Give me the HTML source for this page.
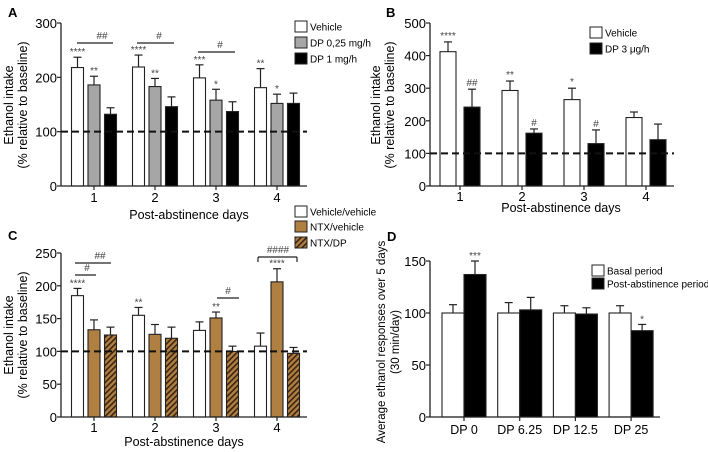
<!DOCTYPE html>
<html><head><meta charset="utf-8"><style>
body{margin:0;background:#fff}
svg{display:block;font-family:"Liberation Sans",Arial,sans-serif}
.tk{font-size:13px}
.yl{font-size:12.5px}
.yd{font-size:11.5px}
.lg{font-size:10px}
.an{font-size:10px;fill:#444}
</style></head><body>
<svg id="fig" width="708" height="452" viewBox="0 0 708 452">
<defs>
<pattern id="hatch" patternUnits="userSpaceOnUse" width="4" height="4" patternTransform="rotate(45)">
<rect width="4" height="4" fill="#b07f42"/><rect width="1.6" height="4" fill="#3a2410"/>
</pattern>
</defs>
</svg>
<script>
// ---- Panel A data ----
const aDays=["1","2","3","4"];
const aVehicle=[218,219,199,181];
const aVehicleErr=[19,22,24,35];
const aDP025=[186,183,158,152];
const aDP025Err=[16,15,20,17];
const aDP1=[132,146,137,152];
const aDP1Err=[12,18,18,19];
const aTicks=[0,100,200,300];
// ---- Panel B data ----
const bDays=["1","2","3","4"];
const bVehicle=[412,293,265,210];
const bVehicleErr=[30,29,35,17];
const bDP3=[242,162,130,142];
const bDP3Err=[55,13,42,48];
const bTicks=[0,100,200,300,400,500];
// ---- Panel C data ----
const cDays=["1","2","3","4"];
const cVehVeh=[185,155,132,108];
const cVehVehErr=[11,12,13,20];
const cNtxVeh=[133,126,151,206];
const cNtxVehErr=[15,15,9,20];
const cNtxDP=[125,120,100,97];
const cNtxDPErr=[12,17,8,9];
const cTicks=[0,50,100,150,200,250];
// ---- Panel D data ----
const dGroups=["DP 0","DP 6.25","DP 12.5","DP 25"];
const dBasal=[100,100,100,100];
const dBasalErr=[8,10,7,7];
const dPost=[137,103,99,83];
const dPostErr=[13,12,6,6];
const dTicks=[0,50,100,150];

const svg=document.getElementById('fig');
const NS="http://www.w3.org/2000/svg";
function el(tag,attrs,parent,txt){const e=document.createElementNS(NS,tag);for(const k in attrs)e.setAttribute(k,attrs[k]);if(txt!==undefined)e.textContent=txt;(parent||svg).appendChild(e);return e;}

function panel(o){
  const g=el('g',{});
  
  
  const y=v=>o.y0-(v/o.ymax)*(o.y0-o.ytop);
  const cx=i=>o.gx0+i*o.pitch;
  o.series.forEach((s,si)=>{
    s.vals.forEach((v,i)=>{
      const x=cx(i)+s.off-o.bw/2;
      const top=y(v+s.err[i]);
      const eb=el('line',{x1:cx(i)+s.off,x2:cx(i)+s.off,y1:y(v),y2:top,stroke:'#222','stroke-width':1.2},g);
      
      
      const ec=el('line',{x1:cx(i)+s.off-4,x2:cx(i)+s.off+4,y1:top,y2:top,stroke:'#222','stroke-width':1.2},g);
      
      
      const r=el('rect',{x:x,y:y(v),width:o.bw,height:o.y0-y(v),fill:s.fill,stroke:'#222','stroke-width':1.1},g);
      
      
    });
  });
  const ya=el('line',{x1:o.ax,x2:o.ax,y1:o.ytop,y2:o.y0,stroke:'#222','stroke-width':1.3},g);
  
  
  const xa=el('line',{x1:o.ax,x2:o.axEnd,y1:o.y0,y2:o.y0,stroke:'#222','stroke-width':1.3},g);
  
  
  o.ticks.forEach(t=>{
    el('line',{x1:o.ax-4,x2:o.ax,y1:y(t),y2:y(t),stroke:'#222','stroke-width':1.2},g);
    const tl=el('text',{x:o.ax-4,y:y(t)+5,'text-anchor':'end',class:'tk'},g,String(t));
    
    
  });
  o.cats.forEach((c,i)=>{
    el('line',{x1:cx(i),x2:cx(i),y1:o.y0,y2:o.y0+4,stroke:'#222','stroke-width':1.2},g);
    const tl=el('text',{x:cx(i),y:o.y0+o.tkdy,'text-anchor':'middle',class:o.tkcls||'tk'},g,c);
    
    
  });
  if(o.dash){const d=el('line',{x1:o.ax,x2:o.axEnd,y1:y(100),y2:y(100),stroke:'#111','stroke-width':2,'stroke-dasharray':'7,4'},g);
    
    }
  return {y,cx,g};
}

function txt(x,y,s,cls,name,anchor,g){const t=el('text',{x:x,y:y,'text-anchor':anchor||'middle',class:cls||''},g||svg,s);return t;}
function ln(x1,y1,x2,y2,g){const l=el('line',{x1,y1,x2,y2,stroke:'#222','stroke-width':1.2},g||svg);return l;}
function legend(x,y,fill,label,name){const r=el('rect',{x:x,y:y,width:12,height:11,fill:fill,stroke:'#222','stroke-width':1});txt(x+15,y+9.5,label,'lg',name,'start');}
function ytitle(x,cy,l1,l2,name,cls){const t=el('text',{transform:`translate(${x},${cy}) rotate(-90)`,'text-anchor':'middle',class:cls||'yl'});el('tspan',{x:0,dy:0},t,l1);el('tspan',{x:0,dy:14},t,l2);}

// Panel A
const A=panel({name:'panel-a',ax:61,axEnd:307,ytop:23,y0:186,ymax:300,gx0:94,pitch:61,bw:12,ticks:aTicks,cats:aDays,tkdy:16,dash:true,
 series:[{key:'vehicle',vals:aVehicle,err:aVehicleErr,fill:'#fff',off:-16.5},{key:'dp025',vals:aDP025,err:aDP025Err,fill:'#a6a6a6',off:0},{key:'dp1',vals:aDP1,err:aDP1Err,fill:'#000',off:16.5}]});
txt(8,17,'A','','panel-a-label','start').setAttribute('style','font-weight:bold;font-size:13px');
ytitle(13,105,'Ethanol intake','(% relative to baseline)','panel-a-y-title');
txt(189,219,'Post-abstinence days','yl','panel-a-x-title');
legend(295,21,'#fff','Vehicle','legend-a-vehicle');
legend(295,37,'#a6a6a6','DP 0,25 mg/h','legend-a-dp025');
legend(295,53,'#000','DP 1 mg/h','legend-a-dp1');
[["****",0,-16.5,aVehicle,aVehicleErr],["**",0,0,aDP025,aDP025Err],["****",1,-16.5,aVehicle,aVehicleErr],["**",1,0,aDP025,aDP025Err],["***",2,-16.5,aVehicle,aVehicleErr],["*",2,0,aDP025,aDP025Err],["**",3,-16.5,aVehicle,aVehicleErr],["*",3,0,aDP025,aDP025Err]].forEach(a=>txt(A.cx(a[1])+a[2],A.y(a[3][a[1]]+a[4][a[1]])-2,a[0],'an','significance-star'));
ln(77,43,113,43);txt(102,39,'##','an','significance-hash');
ln(137,43,174,43);txt(159,39,'#','an','significance-hash');
ln(198,52,235,52);txt(220,48,'#','an','significance-hash');

// Panel B
const B=panel({name:'panel-b',ax:430,axEnd:674,ytop:23,y0:186,ymax:500,gx0:460,pitch:62,bw:16,ticks:bTicks,cats:bDays,tkdy:15,dash:true,
 series:[{key:'vehicle',vals:bVehicle,err:bVehicleErr,fill:'#fff',off:-12},{key:'dp3',vals:bDP3,err:bDP3Err,fill:'#000',off:12}]});
txt(386,17,'B','','panel-b-label','start').setAttribute('style','font-weight:bold;font-size:13px');
ytitle(380,105,'Ethanol intake','(% relative to baseline)','panel-b-y-title');
txt(561,212,'Post-abstinence days','yl','panel-b-x-title');
legend(590,27,'#fff','Vehicle','legend-b-vehicle');
legend(590,43,'#000','DP 3  μg/h','legend-b-dp3');
[["****",0,-12,bVehicle,bVehicleErr],["##",0,12,bDP3,bDP3Err],["**",1,-12,bVehicle,bVehicleErr],["#",1,12,bDP3,bDP3Err],["*",2,-12,bVehicle,bVehicleErr],["#",2,12,bDP3,bDP3Err]].forEach(a=>txt(B.cx(a[1])+a[2],B.y(a[3][a[1]]+a[4][a[1]])-3,a[0],'an','significance-mark'));

// Panel C
const C=panel({name:'panel-c',ax:61,axEnd:307,ytop:253,y0:417,ymax:250,gx0:94,pitch:61,bw:12,ticks:cTicks,cats:cDays,tkdy:15,dash:true,
 series:[{key:'vehveh',vals:cVehVeh,err:cVehVehErr,fill:'#fff',off:-16.5},{key:'ntxveh',vals:cNtxVeh,err:cNtxVehErr,fill:'#b07f42',off:0},{key:'ntxdp',vals:cNtxDP,err:cNtxDPErr,fill:'url(#hatch)',off:16.5}]});
txt(8,240,'C','','panel-c-label','start').setAttribute('style','font-weight:bold;font-size:13px');
ytitle(13,335,'Ethanol intake','(% relative to baseline)','panel-c-y-title');
txt(184,446,'Post-abstinence days','yl','panel-c-x-title');
legend(295,206,'#fff','Vehicle/vehicle','legend-c-vehveh');
legend(295,221,'#b07f42','NTX/vehicle','legend-c-ntxveh');
legend(295,237,'url(#hatch)','NTX/DP','legend-c-ntxdp');
[["****",0,-16.5,cVehVeh,cVehVehErr],["**",1,-16.5,cVehVeh,cVehVehErr],["**",2,0,cNtxVeh,cNtxVehErr],["****",3,0,cNtxVeh,cNtxVehErr]].forEach(a=>txt(C.cx(a[1])+a[2],C.y(a[3][a[1]]+a[4][a[1]])-2,a[0],'an','significance-star'));
ln(75,275,96,275);txt(87,271,'#','an','significance-hash');
ln(75,263,111,263);txt(100,259,'##','an','significance-hash');
ln(217,298,239,298);txt(228,294,'#','an','significance-hash');
ln(258,257,297,257);ln(258,257,258,262);ln(297,257,297,262);txt(278,253,'####','an','significance-hash');

// Panel D
const D=panel({name:'panel-d',ax:430,axEnd:660,ytop:261,y0:417,ymax:150,gx0:464,pitch:55.7,bw:22,ticks:dTicks,cats:dGroups,tkdy:17,tkcls:'yl',dash:false,
 series:[{key:'basal',vals:dBasal,err:dBasalErr,fill:'#fff',off:-11},{key:'post',vals:dPost,err:dPostErr,fill:'#000',off:11}]});
txt(387,241,'D','','panel-d-label','start').setAttribute('style','font-weight:bold;font-size:13px');
ytitle(385,342,'Average ethanol responses over 5 days','(30 min/day)','panel-d-y-title','yd');
legend(592,265,'#fff','Basal period','legend-d-basal');
legend(592,278,'#000','Post-abstinence period','legend-d-post');
txt(D.cx(0)+11,D.y(dPost[0]+dPostErr[0])-2,'***','an','significance-star');
txt(D.cx(3)+11,D.y(dPost[3]+dPostErr[3])-2,'*','an','significance-star');
</script>
</body></html>
